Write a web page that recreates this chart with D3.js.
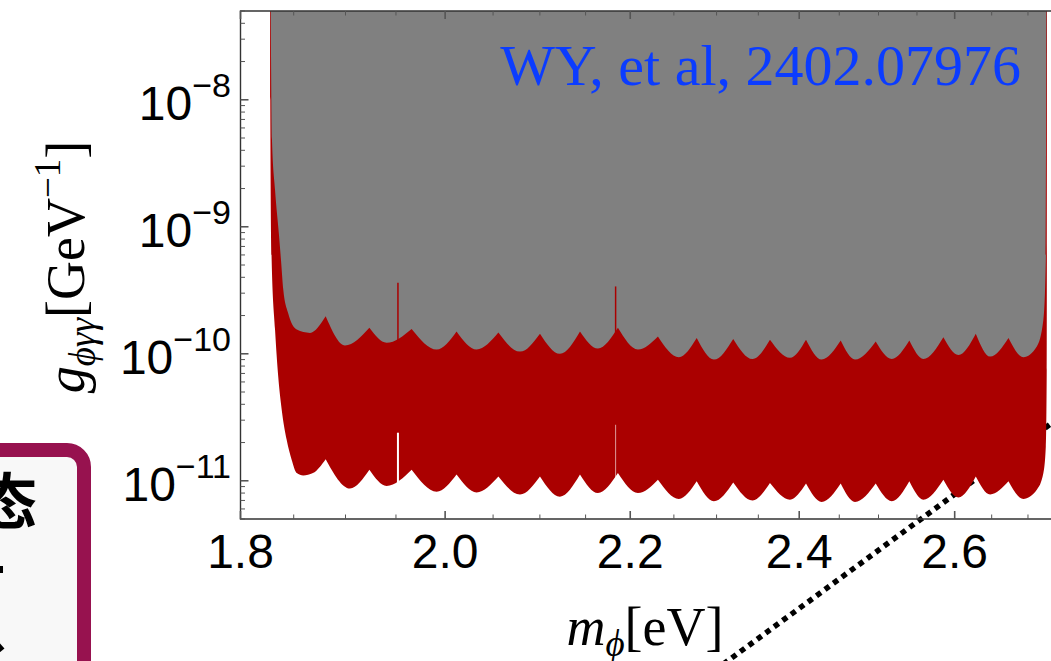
<!DOCTYPE html>
<html>
<head>
<meta charset="utf-8">
<title>g_phi_gamma_gamma exclusion</title>
<script src="https://cdn.jsdelivr.net/npm/d3@7"></script>
<style>
  body { margin: 0; background: #fff; }
  svg { display: block; }
  .tick-label { font-family: "Liberation Sans", Arial, sans-serif; fill: #000; }
  .serif { font-family: "Liberation Serif", "Times New Roman", serif; fill: #000; }
</style>
</head>
<body>
<svg id="chart" width="1051" height="661"></svg>
<script>
// scallop cusps (m in eV), shared by both boundaries
const cuspM = [1.8807, 1.9235, 1.9658, 2.0118, 2.0556, 2.1001, 2.1438, 2.1861, 2.2316, 2.2766,
               2.3198, 2.3641, 2.4084, 2.4518, 2.4964, 2.5400, 2.5849, 2.6284, 2.6730];

// upper edge of the red band (grey above it)
const upperCuspG = [1.97e-10, 1.60e-10, 1.57e-10, 1.50e-10, 1.47e-10, 1.44e-10, 1.50e-10, 1.60e-10, 1.37e-10, 1.33e-10,
                    1.31e-10, 1.29e-10, 1.29e-10, 1.27e-10, 1.25e-10, 1.27e-10, 1.35e-10, 1.44e-10, 1.33e-10];
const upperValleyM = [1.8995, 1.9406, 1.9913, 2.0327, 2.0786, 2.1218, 2.1637, 2.2087, 2.2558, 2.2968,
                      2.3429, 2.3886, 2.4279, 2.4699, 2.5172, 2.5584, 2.6050, 2.6479, 2.6936];
const upperValleyG = [1.16e-10, 1.22e-10, 1.08e-10, 1.08e-10, 1.04e-10, 1.00e-10, 1.10e-10, 1.08e-10, 0.94e-10, 0.90e-10,
                      0.91e-10, 0.93e-10, 0.90e-10, 0.90e-10, 0.91e-10, 0.91e-10, 0.98e-10, 0.95e-10, 0.94e-10];
const upperLeft = [[1.8282, 6e-8], [1.8294, 4.84e-9], [1.8323, 1.95e-9], [1.8360, 8.65e-10], [1.8379, 5.49e-10],
                   [1.8401, 3.19e-10], [1.8446, 2.10e-10], [1.8529, 1.55e-10], [1.8656, 1.46e-10]];
const upperRight = [[2.7123, 1.14e-10], [2.7215, 1.85e-10], [2.7249, 5.5e-10], [2.7258, 6e-8]];

// lower edge of the red band
const lowerCuspG = [1.48e-11, 1.22e-11, 1.22e-11, 1.12e-11, 1.08e-11, 1.08e-11, 1.12e-11, 1.15e-11, 1.02e-11, 0.99e-11,
                    0.97e-11, 0.96e-11, 0.95e-11, 0.95e-11, 0.95e-11, 0.99e-11, 1.02e-11, 1.08e-11, 0.99e-11];
const lowerValleyM = [1.9044, 1.9406, 1.9913, 2.0327, 2.0786, 2.1218, 2.1637, 2.2087, 2.2558, 2.2968,
                      2.3429, 2.3886, 2.4279, 2.4699, 2.5172, 2.5584, 2.6050, 2.6479, 2.6936];
const lowerValleyG = [0.87e-11, 0.91e-11, 0.82e-11, 0.81e-11, 0.78e-11, 0.75e-11, 0.80e-11, 0.80e-11, 0.72e-11, 0.69e-11,
                      0.70e-11, 0.71e-11, 0.68e-11, 0.68e-11, 0.69e-11, 0.71e-11, 0.74e-11, 0.78e-11, 0.72e-11];
const lowerLeft = [[1.8276, 6e-8], [1.8278, 1e-8], [1.8291, 5.49e-10], [1.8323, 1.55e-10], [1.8354, 6.47e-11],
                   [1.8386, 3.62e-11], [1.8433, 2.10e-11], [1.8481, 1.46e-11], [1.8529, 1.15e-11],
                   [1.8591, 1.10e-11], [1.8684, 1.15e-11]];
const lowerRight = [[2.7123, 0.85e-11], [2.7215, 1.15e-11], [2.7249, 1.86e-11], [2.7262, 7.48e-11], [2.7266, 6e-8]];

// narrow features: [m, gTop, gBottom]
const redSpikes = [[1.9520, 3.62e-10, 1.18e-10], [2.1835, 3.39e-10, 1.41e-10]];
const whiteSpikes = [[1.9520, 2.39e-11, 0.85e-11], [2.1835, 2.76e-11, 0.92e-11]];

// dotted line endpoints [m, g]
const dottedLine = [[2.298, 3.22e-13], [2.745, 3.18e-11]];

const xMajor = [1.8, 2.0, 2.2, 2.4, 2.6];
const xMinor = [1.85, 1.9, 1.95, 2.05, 2.1, 2.15, 2.25, 2.3, 2.35, 2.45, 2.5, 2.55, 2.65, 2.7];
const yMajor = [1e-11, 1e-10, 1e-9, 1e-8];
const yMajorExp = ["\u221211", "\u221210", "\u22129", "\u22128"];

const svg = d3.select("#chart");
const plotL = 240.5, plotT = 11, plotB = 519;
const plotR = plotL + 4472 * Math.log10(2.75 / 1.8);

const x = d3.scaleLog().domain([1.8, 2.75]).range([plotL, plotR]);
const y = d3.scaleLog().domain([5e-12, 5e-8]).range([plotB, plotT]);

// slide box on the left
svg.append("rect")
    .attr("x", -40).attr("y", 450).attr("width", 124).attr("height", 300)
    .attr("rx", 17)
    .attr("fill", "#f8f8f8").attr("stroke", "#97124f").attr("stroke-width", 14);
const cjk = svg.append("g")
    .attr("font-family", "'Noto Sans CJK SC', sans-serif")
    .attr("font-weight", 700).attr("font-size", 60);
cjk.append("text").attr("x", -23).attr("y", 524).text("态");
cjk.append("text").attr("x", -55).attr("y", 604).text("对");
cjk.append("text").attr("x", -53).attr("y", 684).text("比");

// dotted line (lies under the filled regions)
svg.append("line")
    .attr("x1", x(dottedLine[0][0])).attr("y1", y(dottedLine[0][1]))
    .attr("x2", x(dottedLine[1][0])).attr("y2", y(dottedLine[1][1]))
    .attr("stroke", "#000").attr("stroke-width", 5.5).attr("stroke-dasharray", "5.5,5");

svg.append("clipPath").attr("id", "plot-clip")
  .append("rect").attr("x", plotL).attr("y", plotT).attr("width", plotR - plotL).attr("height", plotB - plotT);

const mono = d3.line().x(d => x(d[0])).y(d => y(d[1])).curve(d3.curveMonotoneX);

function boundary(leftTail, cg, vm, vg, rightTail) {
    const segs = [leftTail.concat([[cuspM[0], cg[0]]])];
    for (let i = 0; i < cuspM.length - 1; i++) {
        segs.push([[cuspM[i], cg[i]], [vm[i], vg[i]], [cuspM[i + 1], cg[i + 1]]]);
    }
    const n = cuspM.length - 1;
    segs.push([[cuspM[n], cg[n]], [vm[n], vg[n]]].concat(rightTail));
    return segs.map((s, i) => {
        const p = mono(s);
        return i ? p.replace(/^M/, "L") : p;
    }).join("") + "Z";
}

const plot = svg.append("g").attr("clip-path", "url(#plot-clip)");

plot.append("path")
    .attr("d", boundary(lowerLeft, lowerCuspG, lowerValleyM, lowerValleyG, lowerRight))
    .attr("fill", "#aa0000");
plot.append("path")
    .attr("d", boundary(upperLeft, upperCuspG, upperValleyM, upperValleyG, upperRight))
    .attr("fill", "#808080");

plot.selectAll(".red-spike").data(redSpikes).join("line")
    .attr("x1", d => x(d[0])).attr("x2", d => x(d[0]))
    .attr("y1", d => y(d[1])).attr("y2", d => y(d[2]))
    .attr("stroke", "#aa0000").attr("stroke-width", 1.5);
plot.selectAll(".white-spike").data(whiteSpikes).join("line")
    .attr("x1", d => x(d[0])).attr("x2", d => x(d[0]))
    .attr("y1", d => y(d[1])).attr("y2", d => y(d[2]))
    .attr("stroke", "#fff").attr("stroke-width", (d, i) => i ? 1 : 2)
    .attr("stroke-opacity", (d, i) => i ? 0.6 : 1);

// frame
svg.append("path")
    .attr("d", `M${plotR},${plotT}H${plotL}V${plotB}H${plotR}`)
    .attr("fill", "none").attr("stroke", "#333").attr("stroke-width", 1.4);

const ticks = svg.append("g").attr("stroke", "#555");
xMajor.forEach(v => {
    ticks.append("line").attr("x1", x(v)).attr("x2", x(v)).attr("y1", plotB).attr("y2", plotB - 8).attr("stroke-width", 1.6);
    ticks.append("line").attr("x1", x(v)).attr("x2", x(v)).attr("y1", plotT).attr("y2", plotT + 8).attr("stroke-width", 1.6);
});
xMinor.forEach(v => {
    ticks.append("line").attr("x1", x(v)).attr("x2", x(v)).attr("y1", plotB).attr("y2", plotB - 4.5).attr("stroke-width", 1);
    ticks.append("line").attr("x1", x(v)).attr("x2", x(v)).attr("y1", plotT).attr("y2", plotT + 4.5).attr("stroke-width", 1);
});
yMajor.forEach(v => {
    ticks.append("line").attr("x1", plotL).attr("x2", plotL + 8).attr("y1", y(v)).attr("y2", y(v)).attr("stroke-width", 1.6);
});
for (let e = -12; e <= -8; e++) {
    for (let k = 2; k <= 9; k++) {
        const v = k * Math.pow(10, e);
        if (v < 5e-12 || v > 5e-8) continue;
        ticks.append("line").attr("x1", plotL).attr("x2", plotL + 4.5).attr("y1", y(v)).attr("y2", y(v)).attr("stroke-width", 1);
    }
}

// tick labels
svg.selectAll(".xl").data(xMajor).join("text")
    .attr("class", "tick-label")
    .attr("x", d => x(d)).attr("y", 568)
    .attr("text-anchor", "middle").attr("font-size", 48)
    .text(d => d.toFixed(1));

const yl = svg.selectAll(".yl").data(yMajor).join("text")
    .attr("class", "tick-label")
    .attr("x", 231).attr("y", d => y(d) + 20)
    .attr("text-anchor", "end").attr("font-size", 48);
yl.append("tspan").text("10");
yl.append("tspan").attr("dy", -23).attr("font-size", 34).text((d, i) => yMajorExp[i]);

// axis titles
const xt = svg.append("text").attr("class", "serif")
    .attr("x", 645).attr("y", 645).attr("text-anchor", "middle").attr("font-size", 54);
xt.append("tspan").attr("font-style", "italic").text("m");
xt.append("tspan").attr("font-style", "italic").attr("font-size", 37).attr("dy", 11).text("\u03d5");
xt.append("tspan").attr("dy", -11).text("[eV]");

const yt = svg.append("text").attr("class", "serif")
    .attr("transform", "translate(84,267) rotate(-90)")
    .attr("text-anchor", "middle").attr("font-size", 54);
yt.append("tspan").attr("font-style", "italic").text("g");
yt.append("tspan").attr("font-style", "italic").attr("font-size", 37).attr("dy", 11).text("\u03d5\u03b3\u03b3");
yt.append("tspan").attr("dy", -11).text("[GeV");
yt.append("tspan").attr("font-size", 37).attr("dy", -24).text("\u22121");
yt.append("tspan").attr("dy", 24).text("]");

// citation
svg.append("text").attr("class", "serif")
    .attr("x", 1021).attr("y", 85).attr("text-anchor", "end")
    .attr("font-size", 58).style("fill", "#0b3cff")
    .text("WY, et al, 2402.07976");
</script>
</body>
</html>
